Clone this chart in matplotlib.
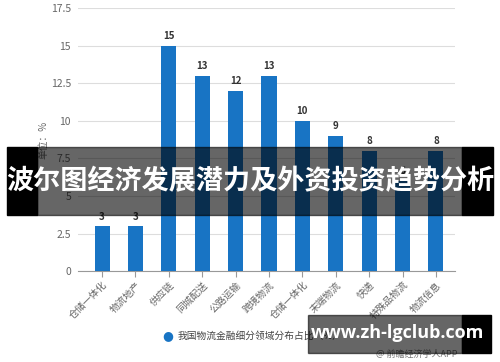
import matplotlib.pyplot as plt
from matplotlib.patches import Rectangle

plt.rcParams['font.family'] = ['Noto Sans CJK SC', 'DejaVu Sans']

categories = ["仓储一体化", "物流地产", "供应链", "同城配送", "公路运输", "跨境物流",
              "仓储一体化", "末端物流", "快递", "特殊品物流", "物流信息"]
values = [3, 3, 15, 13, 12, 13, 10, 9, 8, 6, 8]
yticks = [0, 2.5, 5, 7.5, 10, 12.5, 15, 17.5]
ytick_labels = ["0", "2.5", "5", "7.5", "10", "12.5", "15", "17.5"]

legend_text = "我国物流金融细分领域分布占比（%）"
source_text = "@ 前瞻经济学人APP"
banner_text = "波尔图经济发展潜力及外资投资趋势分析"
site_text = "www.zh-lgclub.com"

bar_color = "#1874c4"

fig = plt.figure(figsize=(5, 3.62), dpi=100)
ax = fig.add_axes([0.156, 0.251, 0.754, 0.727])

x = list(range(len(categories)))
ax.bar(x, values, width=0.45, color=bar_color, zorder=3)
for xi, v in zip(x, values):
    ax.text(xi, v + 0.3, str(v), ha="center", va="bottom",
            fontsize=7, fontweight="bold", color="#333333", zorder=4)

ax.set_xlim(-0.72, 10.57)
ax.set_ylim(0, 17.5)
ax.set_yticks(yticks)
ax.set_yticklabels(ytick_labels)
ax.set_xticks(x)
ax.set_xticklabels(categories, rotation=45, ha="right", rotation_mode="anchor")
ax.tick_params(axis="y", length=0, labelsize=7.5, labelcolor="#666666", pad=5)
ax.tick_params(axis="x", length=4, color="#999999", labelsize=7,
               labelcolor="#666666", pad=2)
ax.grid(axis="y", color="#dddddd", linewidth=0.8, zorder=0)
for s in ["top", "right", "left"]:
    ax.spines[s].set_visible(False)
ax.spines["bottom"].set_color("#999999")
ax.set_ylabel("单位：%", fontsize=7, color="#666666", labelpad=2)

# legend
fig.text(168 / 500, 1 - 336 / 362, "●", color=bar_color, fontsize=9,
         ha="center", va="center", family=["DejaVu Sans"])
fig.text(178 / 500, 1 - 336 / 362, legend_text, color="#444444", fontsize=7,
         ha="left", va="center")
fig.text(457 / 500, 1 - 354 / 362, source_text, color="#777777", fontsize=6.5,
         ha="right", va="center")

# banner overlay: translucent middle, solid black ends
fig.patches.append(Rectangle((37 / 500, 1 - 215 / 362), 425 / 500, 68 / 362,
                             transform=fig.transFigure, color="#000000",
                             alpha=0.6, zorder=10))
fig.patches.append(Rectangle((7 / 500, 1 - 215 / 362), 30 / 500, 68 / 362,
                             transform=fig.transFigure, color="#000000",
                             zorder=10))
fig.patches.append(Rectangle((462 / 500, 1 - 215 / 362), 31 / 500, 68 / 362,
                             transform=fig.transFigure, color="#000000",
                             zorder=10))
fig.text(0.5, 1 - 181 / 362, banner_text, color="white", fontsize=19.5,
         fontweight="bold", ha="center", va="center", zorder=11)

# site watermark box
fig.patches.append(Rectangle((308 / 500, 1 - 353 / 362), 154 / 500, 38 / 362,
                             transform=fig.transFigure, color="#000000",
                             alpha=0.6, zorder=10))
fig.patches.append(Rectangle((462 / 500, 1 - 353 / 362), 29 / 500, 38 / 362,
                             transform=fig.transFigure, color="#000000",
                             zorder=10))
fig.text(398 / 500, 1 - 333 / 362, site_text, color="white", fontsize=13,
         fontweight="bold", ha="center", va="center", zorder=11,
         family=["Open Sans", "DejaVu Sans"])

fig.savefig("out.png", dpi=100)
